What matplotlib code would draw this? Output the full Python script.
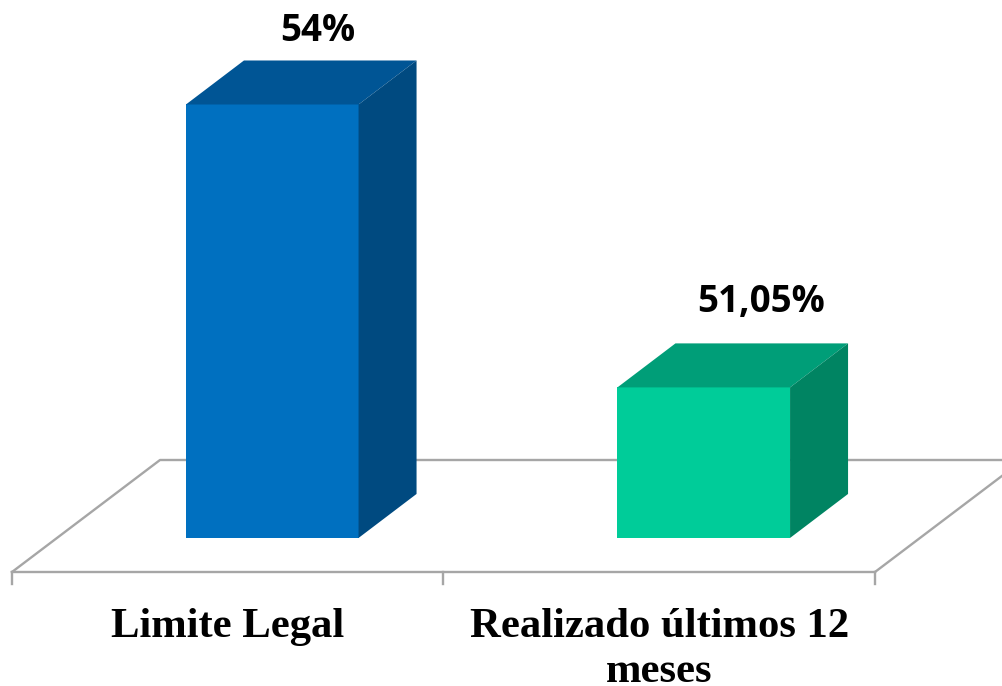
#!/usr/bin/env python3
"""3D-look bar chart: legal limit vs last 12 months."""

import matplotlib
matplotlib.use("Agg")
import matplotlib.pyplot as plt
from matplotlib.patches import Polygon

categories = ["Limite Legal", "Realizado últimos 12\nmeses"]
values = [54.0, 51.05]
labels = ["54%", "51,05%"]
front_colors = ["#0070C0", "#00CC99"]
top_colors = ["#005595", "#009E78"]
side_colors = ["#004A80", "#008462"]

W, H = 1003, 686
BAR_W = 0.40       # in category units
BASE = 49.48       # value at which the bars stand
FLOOR = 49.125     # value at the front edge of the floor
PX_X = 431.5       # pixels per category
PX_Y = 95.9        # pixels per value unit

# label nudges in px, the original is not regular here
LABEL_DX = [45, 57]
LABEL_DY = [10, 22]


def poly(ax, pts, color):
    ax.add_patch(Polygon(pts, closed=True, fc=color, ec="none", clip_on=False, zorder=3))


def main():
    fig = plt.figure(figsize=(W / 100, H / 100), dpi=100)
    ax = fig.add_axes([12 / W, (H - 572) / H, 2 * PX_X / W, 572 / H])
    ax.set_xlim(-0.5, 1.5)
    ax.set_ylim(FLOOR, FLOOR + 572 / PX_Y)
    ax.axis("off")

    dx, dy = 58 / PX_X, 44 / PX_Y
    gray = "#A6A6A6"
    lw = 1.7

    # floor outline and ticks
    fdx, fdy = 148 / PX_X, 112 / PX_Y
    ax.plot([-0.5, -0.5 + fdx, 1.5 + fdx], [FLOOR, FLOOR + fdy, FLOOR + fdy],
            color=gray, lw=lw, clip_on=False, zorder=1)
    ax.plot([1.5, 1.5 + fdx], [FLOOR, FLOOR + fdy], color=gray, lw=lw, clip_on=False, zorder=1)
    ax.plot([-0.5, 1.5], [FLOOR, FLOOR], color=gray, lw=lw, clip_on=False, zorder=1)
    for x in [-0.5, 0.5, 1.5]:
        ax.plot([x, x], [FLOOR, FLOOR - 12 / PX_Y], color=gray, lw=lw, clip_on=False, zorder=1)

    off = 44.5 / PX_X
    for i, v in enumerate(values):
        l = i - BAR_W / 2 + off
        r = i + BAR_W / 2 + off
        poly(ax, [(l, BASE), (r, BASE), (r, v), (l, v)], front_colors[i])
        poly(ax, [(l, v), (r, v), (r + dx, v + dy), (l + dx, v + dy)], top_colors[i])
        poly(ax, [(r, BASE), (r + dx, BASE + dy), (r + dx, v + dy), (r, v)], side_colors[i])
        ax.text(i + off + LABEL_DX[i] / PX_X, v + dy + LABEL_DY[i] / PX_Y, labels[i],
                ha="center", va="bottom",
                family="Open Sans", fontsize=26.5, fontweight="bold", color="black", clip_on=False)
        ax.text(i, FLOOR - 36 / PX_Y, categories[i], ha="center", va="top", linespacing=1.25,
                family="Liberation Serif", fontsize=30.7, fontweight="bold", color="black", clip_on=False)

    fig.savefig("out.png", dpi=100)
    plt.close(fig)


if __name__ == "__main__":
    main()
